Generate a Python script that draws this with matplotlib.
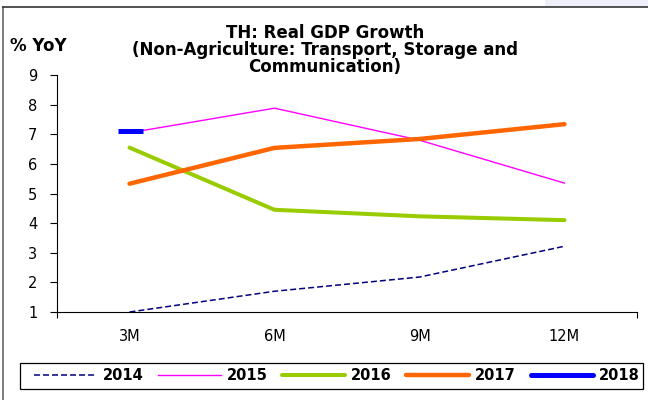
import matplotlib
matplotlib.use("Agg")
import matplotlib.pyplot as plt
from matplotlib.lines import Line2D
from matplotlib.patches import Rectangle

plt.rcParams['font.family'] = ['DejaVu Sans']

# data
periods = ['3M', '6M', '9M', '12M']
y2014 = [1.0, 1.7, 2.18, 3.22]
y2015 = [7.05, 7.88, 6.8, 5.35]
y2016 = [6.55, 4.45, 4.23, 4.1]
y2017 = [5.33, 6.54, 6.84, 7.34]
y2018 = [7.12]
yticks = list(range(1, 10))
title_lines = ['TH: Real GDP Growth', '(Non-Agriculture: Transport, Storage and', 'Communication)']

W, H = 648, 400
fig = plt.figure(figsize=(W / 100, H / 100), dpi=100)
ax = fig.add_axes([57 / W, 1 - 312 / H, 580 / W, 237 / H])

dash14 = (0, (3.9, 2.0))
x = list(range(len(periods)))
ax.plot(x, y2014, color='#000080', lw=1.1, ls=dash14)
ax.plot(x, y2015, color='#FF00FF', lw=1.0)
ax.plot(x, y2016, color='#99CC00', lw=2.9, solid_capstyle='round')
ax.plot(x, y2017, color='#FF6600', lw=3.2, solid_capstyle='round')
ax.plot(x[:len(y2018)], y2018, color='#0000FF', lw=3.6, marker='_', ms=18, mew=3.6)

ax.set_xlim(-0.5, len(periods) - 0.5)
ax.set_ylim(1, 9)
ax.set_yticks(yticks)
ax.set_xticks(x)
ax.set_xticklabels(periods)
ax.tick_params(axis='x', length=0, pad=12, labelsize=10.5)
ax.tick_params(axis='y', length=5, width=0.8, pad=9, labelsize=10.5, direction='out')
ax.set_xticks([-0.5, len(periods) - 0.5], minor=True)
ax.tick_params(axis='x', which='minor', length=4, width=0.8)
for s in ['top', 'right']:
    ax.spines[s].set_visible(False)
for s in ['left', 'bottom']:
    ax.spines[s].set_linewidth(0.8)

for i, line in enumerate(title_lines):
    fig.text(325 / W, 1 - (33 + 17 * i) / H, line, ha='center', va='center',
             fontsize=12, fontweight='bold')
fig.text(10 / W, 1 - 46 / H, '% YoY', ha='left', va='center', fontsize=12, fontweight='bold')

# legend: frame drawn separately so entries can be spread like the original
handles = [Line2D([], [], color='#000080', lw=1.1, ls=dash14),
           Line2D([], [], color='#FF00FF', lw=1.0),
           Line2D([], [], color='#99CC00', lw=2.9, solid_capstyle='round'),
           Line2D([], [], color='#FF6600', lw=3.2, solid_capstyle='round'),
           Line2D([], [], color='#0000FF', lw=3.6, solid_capstyle='round')]
fig.legend(handles, ['2014', '2015', '2016', '2017', '2018'], ncol=5,
           loc='center left', bbox_to_anchor=(34 / W, 1 - 376 / H, 606 / W, 0),
           mode='expand', frameon=False, handlelength=4.3, handletextpad=0.4,
           columnspacing=1.0, prop={'weight': 'bold', 'size': 10.5},
           borderaxespad=0, borderpad=0)
fig.add_artist(Rectangle((20 / W, 1 - 389 / H), 623 / W, 26 / H, transform=fig.transFigure,
                         fill=False, edgecolor='black', lw=0.9))

# outer frame lines and faint shape at the top right of the original slide
fig.add_artist(Rectangle((545 / W, 1 - 6 / H), 103 / W, 6 / H, transform=fig.transFigure,
                         facecolor='#EEEEF8', edgecolor='none'))
fig.add_artist(Line2D([3 / W, 3 / W], [0, 1 - 7 / H], color='#666666', lw=1.2))
fig.add_artist(Line2D([3 / W, 1], [1 - 7 / H, 1 - 7 / H], color='#333333', lw=1.2))

fig.savefig('out.png', dpi=100)
